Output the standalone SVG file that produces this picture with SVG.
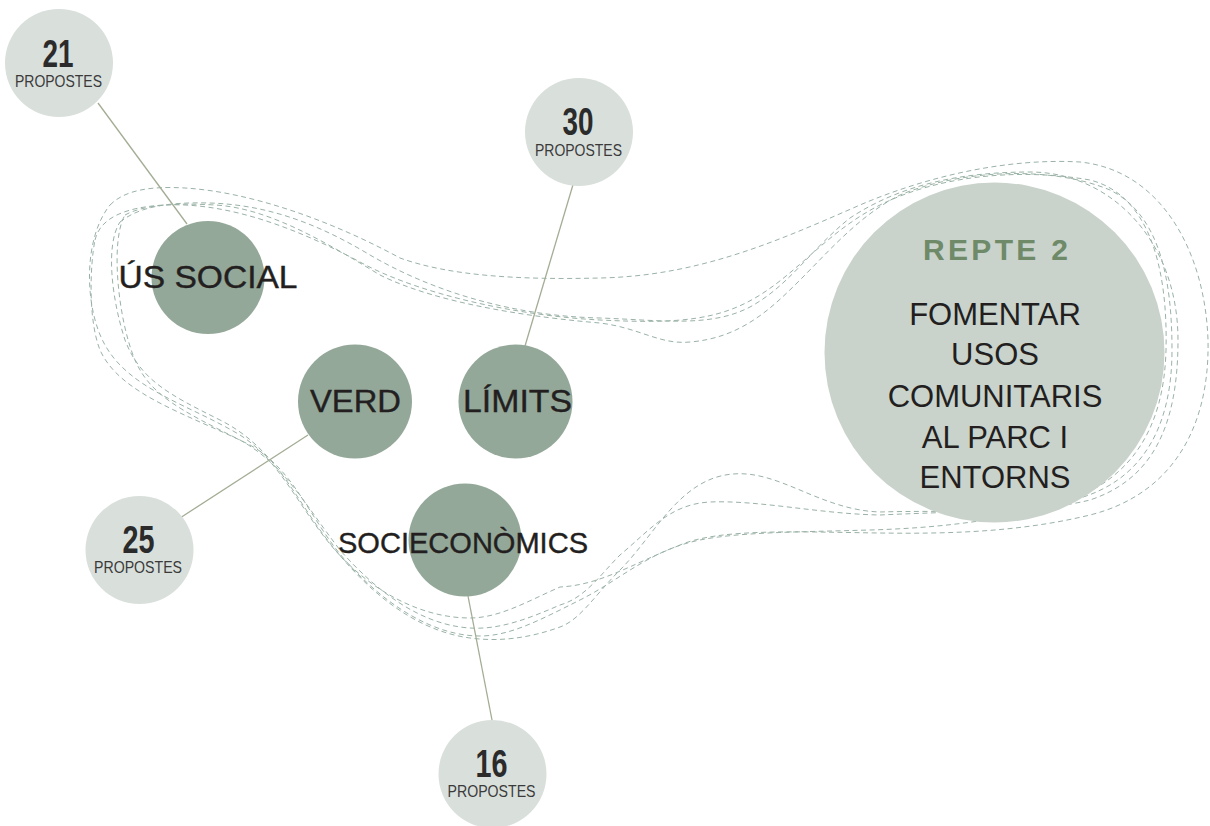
<svg xmlns="http://www.w3.org/2000/svg" width="1210" height="826" viewBox="0 0 1210 826">
<style>
.loop{fill:none;stroke:#9ab2a6;stroke-width:1;stroke-dasharray:5 3.5}
.conn{stroke:#a3ad95;stroke-width:1.3;fill:none}
.count{fill:#d9dfdb}
.theme{fill:#94a899}
.big{fill:#c9d3cc}
.num{font-family:"Liberation Sans",Arial,sans-serif;font-weight:bold;font-size:38px;fill:#2b2b2b;text-anchor:middle}
.prop{font-family:"Liberation Sans",Arial,sans-serif;font-size:16.5px;fill:#3a3a3a;text-anchor:middle}
.lbl{font-family:"Liberation Sans",Arial,sans-serif;font-size:32px;fill:#231f20;stroke:#231f20;stroke-width:0.4px;text-anchor:middle}
.title{font-family:"Liberation Sans",Arial,sans-serif;font-weight:bold;font-size:30px;fill:#6e8a68;text-anchor:middle}
.desc{font-family:"Liberation Sans",Arial,sans-serif;font-size:31px;fill:#231f20;text-anchor:middle}
</style>
<rect width="1210" height="826" fill="#ffffff"/>
<g id="loops">
<path class="loop" d="M110,205 C125,190 150,186 185,188 C250,192 330,220 400,258 C450,276 520,280 600,278 C700,276 780,240 860,205 C930,175 1010,158 1080,162 C1160,170 1205,250 1208,340 C1210,430 1170,495 1090,515 C1020,532 950,534 880,533 C800,532 720,528 680,545 C630,565 600,585 560,587 C530,600 500,618 470,618 C420,618 370,590 335,550 C300,510 280,460 240,435 C190,405 130,390 105,345 C85,310 82,240 110,205 Z"/>
<path class="loop" d="M120,222 C140,206 170,202 210,203 C270,205 320,225 370,255 C430,290 510,316 600,318 C660,320 710,328 750,307 C790,285 810,250 850,218 C900,185 960,172 1030,172 C1110,172 1178,240 1178,340 C1178,430 1150,480 1090,500 C1030,515 940,510 880,512 C820,510 780,470 733,474 C680,478 655,535 620,570 C595,595 580,620 560,627 C530,638 500,642 470,638 C410,630 360,585 320,530 C290,488 270,445 220,420 C170,395 140,380 125,340 C112,300 105,245 120,222 Z"/>
<path class="loop" d="M125,215 C145,204 180,203 215,205 C270,208 330,245 380,275 C440,305 540,318 600,323 C640,328 660,345 690,342 C740,338 770,310 800,280 C830,250 860,215 900,195 C960,170 1050,165 1110,190 C1160,215 1172,280 1172,350 C1172,430 1140,480 1080,498 C1020,512 940,512 880,515 C820,514 760,500 710,502 C670,504 650,530 620,555 C600,575 585,598 560,605 C530,618 500,630 470,628 C420,625 375,590 340,550 C305,505 285,465 240,440 C180,410 150,395 135,360 C118,320 110,240 125,215 Z"/>
<path class="loop" d="M95,240 C100,218 125,207 165,205 C230,202 300,230 360,262 C420,295 520,316 600,320 C680,324 720,320 760,295 C800,270 830,230 880,205 C940,175 1020,168 1090,180 C1150,195 1168,270 1166,350 C1164,430 1130,478 1070,500 C1010,520 940,528 870,530 C800,532 740,532 700,540 C650,550 620,580 580,600 C540,620 510,636 480,636 C430,636 380,600 345,560 C310,520 295,470 250,445 C190,415 120,395 100,350 C88,320 90,265 95,240 Z"/>
</g>
<g id="connectors">
<line class="conn" x1="98" y1="103" x2="187" y2="224"/>
<line class="conn" x1="575" y1="178" x2="525" y2="346"/>
<line class="conn" x1="308" y1="435" x2="180" y2="518"/>
<line class="conn" x1="468" y1="596" x2="492" y2="720"/>
</g>
<g id="n21"><circle class="count" cx="59" cy="63" r="54"/><text class="num" x="58" y="67" textLength="31" lengthAdjust="spacingAndGlyphs">21</text><text class="prop" x="58.5" y="87" textLength="87" lengthAdjust="spacingAndGlyphs">PROPOSTES</text></g>
<g id="n30"><circle class="count" cx="579" cy="132" r="54"/><text class="num" x="578" y="135" textLength="31" lengthAdjust="spacingAndGlyphs">30</text><text class="prop" x="578.5" y="156" textLength="87" lengthAdjust="spacingAndGlyphs">PROPOSTES</text></g>
<g id="n25"><circle class="count" cx="139.5" cy="550" r="54"/><text class="num" x="138.5" y="553" textLength="32" lengthAdjust="spacingAndGlyphs">25</text><text class="prop" x="138" y="573" textLength="88" lengthAdjust="spacingAndGlyphs">PROPOSTES</text></g>
<g id="n16"><circle class="count" cx="492.5" cy="774" r="54"/><text class="num" x="491.5" y="777" textLength="32" lengthAdjust="spacingAndGlyphs">16</text><text class="prop" x="491.5" y="797" textLength="88" lengthAdjust="spacingAndGlyphs">PROPOSTES</text></g>
<g id="us-social"><circle class="theme" cx="208" cy="277.5" r="56.5"/><text class="lbl" x="208" y="288" textLength="179" lengthAdjust="spacingAndGlyphs">ÚS SOCIAL</text></g>
<g id="verd"><circle class="theme" cx="355" cy="401.5" r="57"/><text class="lbl" x="355.5" y="412" textLength="91" lengthAdjust="spacingAndGlyphs">VERD</text></g>
<g id="limits"><circle class="theme" cx="515.5" cy="401.5" r="57"/><text class="lbl" x="517.5" y="412" textLength="109" lengthAdjust="spacingAndGlyphs">LÍMITS</text></g>
<g id="socieconomics"><circle class="theme" cx="465" cy="540" r="56.5"/><text class="lbl" x="463" y="553" style="font-size:30px" textLength="250" lengthAdjust="spacingAndGlyphs">SOCIECONÒMICS</text></g>
<g id="repte2"><circle class="big" cx="994.5" cy="352.5" r="170"/>
<text class="title" x="995.5" y="260" textLength="145" lengthAdjust="spacing">REPTE 2</text>
<text class="desc" x="995" y="325">FOMENTAR</text>
<text class="desc" x="995" y="365">USOS</text>
<text class="desc" x="995" y="407">COMUNITARIS</text>
<text class="desc" x="995" y="448">AL PARC I</text>
<text class="desc" x="995" y="488">ENTORNS</text>
</g>
</svg>
